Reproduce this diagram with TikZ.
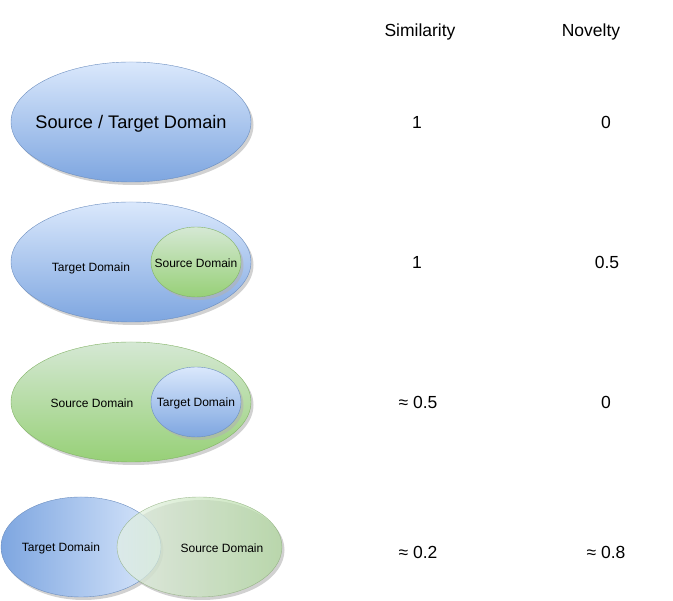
\documentclass[tikz,border=0pt]{standalone}
\usepackage{fontspec}
\setmainfont{Liberation Sans}
\definecolor{blueLight}{HTML}{DAE8FC}
\definecolor{blueDark}{HTML}{7EA6E0}
\definecolor{blueLine}{HTML}{6C8EBF}
\definecolor{greenLight}{HTML}{D5E8D4}
\definecolor{greenDark}{HTML}{97D077}
\definecolor{greenLine}{HTML}{82B366}
\tikzset{
    blue domain/.style={top color=blueLight, bottom color=blueDark, draw=blueLine, thin},
    green domain/.style={top color=greenLight, bottom color=greenDark, draw=greenLine, thin},
    domain shadow/.style={fill=gray!60, opacity=0.6, shift={(2.5,-3)}},
    big label/.style={font=\fontsize{17.5}{20}\selectfont, inner sep=0pt},
    small label/.style={font=\fontsize{12}{14}\selectfont, inner sep=0pt}
}
\begin{document}
\begin{tikzpicture}[x=1pt, y=1pt]
        \useasboundingbox (0, 0) rectangle (673, 601);

        % Draw shadows
        \fill[domain shadow] (131, 479) ellipse (120 and 60);
        \fill[domain shadow] (131, 339) ellipse (120 and 60);
        \fill[domain shadow] (131, 199) ellipse (120 and 60);
        \fill[domain shadow] (81, 54) ellipse (80 and 50);
        \fill[domain shadow] (199.5, 54) ellipse (82.5 and 50);

        % Draw first row: identical domains
        \shade[blue domain] (131, 479) ellipse (120 and 60);

        % Draw second row: source inside target
        \shade[blue domain] (131, 339) ellipse (120 and 60);
        \fill[domain shadow] (196, 339) ellipse (45 and 35);
        \shade[green domain] (196, 339) ellipse (45 and 35);

        % Draw third row: target inside source
        \shade[green domain] (131, 199) ellipse (120 and 60);
        \fill[domain shadow] (196, 199) ellipse (45 and 35);
        \shade[blue domain] (196, 199) ellipse (45 and 35);

        % Draw fourth row: partial overlap
        \shade[left color=blueDark, right color=blueLight, draw=blueLine, thin] (81, 54) ellipse (80 and 50);
        \shade[left color=greenLight!60!white, right color=greenDark!60!greenLight, draw=greenLine!70!gray, thin, opacity=0.7] (199.5, 54) ellipse (82.5 and 50);

        % Add domain labels
        \node[big label, font=\fontsize{18.2}{20}\selectfont] (sameLabel) at (131, 477.5) {Source / Target Domain};
        \node[small label] (targetOuter) at (91, 333) {Target Domain};
        \node[small label] (sourceInner) at (196, 338) {Source Domain};
        \node[small label] (sourceOuter) at (92, 198) {Source Domain};
        \node[small label] (targetInner) at (196, 198) {Target Domain};
        \node[small label] (targetLeft) at (61, 53) {Target Domain};
        \node[small label] (sourceRight) at (222, 53) {Source Domain};

        % Add column headers
        \node[big label] (simHead) at (420, 569) {Similarity};
        \node[big label] (novHead) at (591, 569) {Novelty};

        % Add values
        \node[big label] (simA) at (417, 479) {1};
        \node[big label] (novA) at (606, 479) {0};
        \node[big label] (simB) at (417, 339) {1};
        \node[big label] (novB) at (607, 339) {0.5};
        \node[big label] (simC) at (418, 199) {≈ 0.5};
        \node[big label] (novC) at (606, 199) {0};
        \node[big label] (simD) at (418, 49) {≈ 0.2};
        \node[big label] (novD) at (606, 49) {≈ 0.8};
    \end{tikzpicture}
\end{document}
